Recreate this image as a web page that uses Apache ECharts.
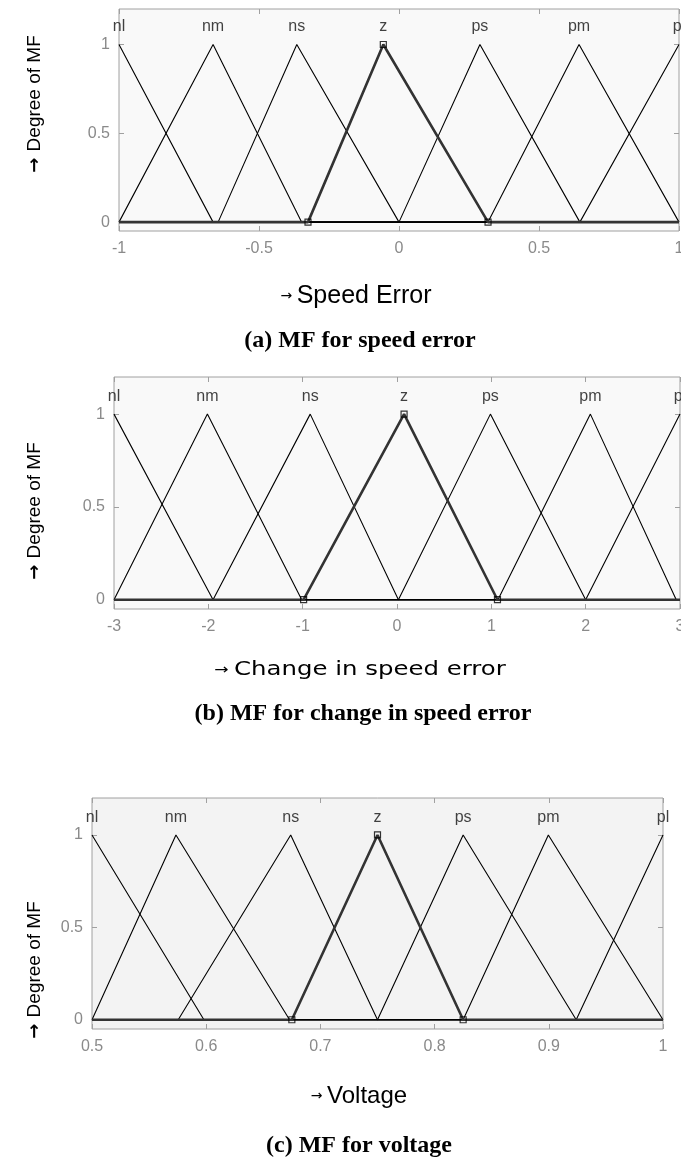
<!DOCTYPE html>
<html><head><meta charset="utf-8">
<script src="https://cdn.jsdelivr.net/npm/echarts@6/dist/echarts.min.js"></script>
<style>html,body{margin:0;padding:0;background:#fff}#c{width:681px;height:1169px}</style>
</head><body><div id="c"></div>
<script>
// Membership function names (same for all three panels)
const mfNames = ['nl', 'nm', 'ns', 'z', 'ps', 'pm', 'pl'];
const selectedMF = 'z';

// (a) Speed error: triangle params [left foot, peak, right foot]
const speedErrorRange = [-1, 1];
const speedErrorStep = 0.5;
const speedErrorMF = [
  [-1, -1, -0.664],
  [-1, -0.664, -0.348],
  [-0.646, -0.365, 0],
  [-0.325, -0.056, 0.318],
  [0, 0.289, 0.646],
  [0.318, 0.643, 1],
  [0.646, 1, 1]
];

// (b) Change in speed error
const changeRange = [-3, 3];
const changeStep = 1;
const changeMF = [
  [-3, -3, -1.95],
  [-3, -2.01, -1.01],
  [-1.95, -0.92, 0.015],
  [-0.99, 0.075, 1.065],
  [0.015, 0.99, 2.0],
  [1.07, 2.05, 2.96],
  [2.0, 3, 3]
];

// (c) Voltage
const voltageRange = [0.5, 1];
const voltageStep = 0.1;
const voltageMF = [
  [0.5, 0.5, 0.598],
  [0.5, 0.5735, 0.673],
  [0.5755, 0.674, 0.75],
  [0.675, 0.75, 0.825],
  [0.75, 0.825, 0.924],
  [0.825, 0.8996, 1],
  [0.924, 1, 1]
];

const yTicks = [0, 0.5, 1];
const yRange = [-0.05, 1.2];

const panels = [
  {range: speedErrorRange, step: speedErrorStep, mf: speedErrorMF,
   grid: {left: 119, top: 9, width: 560, height: 222, backgroundColor: '#f9f9f9'}},
  {range: changeRange, step: changeStep, mf: changeMF,
   grid: {left: 114, top: 377, width: 566, height: 232, backgroundColor: '#f9f9f9'}},
  {range: voltageRange, step: voltageStep, mf: voltageMF,
   grid: {left: 92, top: 798, width: 571, height: 231, backgroundColor: '#f3f3f3'}}
];

function fmt(v) { return String(Number(v.toFixed(3))); }

function mfPoints(p, range) {
  const [a, b, c] = p;
  const pts = [];
  if (a > range[0]) pts.push([range[0], 0]);
  if (b > a) pts.push([a, 0]);
  pts.push([b, 1]);
  if (c > b) pts.push([c, 0]);
  if (c < range[1]) pts.push([range[1], 0]);
  return pts;
}

const grids = [], xAxes = [], yAxes = [], series = [];
panels.forEach((pn, i) => {
  grids.push(Object.assign({show: true, borderColor: '#a0a0a0', borderWidth: 1,
    containLabel: false, outerBoundsMode: 'none'}, pn.grid));
  const tick = {show: true, inside: true, length: 5, lineStyle: {color: '#a0a0a0'}};
  const xBase = {
    type: 'value', gridIndex: i, min: pn.range[0], max: pn.range[1], interval: pn.step,
    axisLine: {show: false, onZero: false}, splitLine: {show: false}, axisTick: tick
  };
  xAxes.push(Object.assign({}, xBase, {position: 'bottom',
    axisLabel: {color: '#8a8a8a', fontSize: 16, margin: 10, fontFamily: 'Liberation Sans', formatter: fmt}}));
  xAxes.push(Object.assign({}, xBase, {position: 'top', axisLabel: {show: false}}));
  const yBase = {
    type: 'value', gridIndex: i, min: yRange[0], max: yRange[1],
    axisLine: {show: false, onZero: false}, splitLine: {show: false},
    axisTick: Object.assign({customValues: yTicks}, tick)
  };
  yAxes.push(Object.assign({}, yBase, {position: 'left',
    axisLabel: {color: '#8a8a8a', fontSize: 16, margin: 9, fontFamily: 'Liberation Sans', customValues: yTicks, formatter: fmt}}));
  yAxes.push(Object.assign({}, yBase, {position: 'right', axisLabel: {show: false}}));

  pn.mf.forEach((p, k) => {
    const name = mfNames[k];
    const sel = name === selectedMF;
    series.push({
      type: 'line', xAxisIndex: 2 * i, yAxisIndex: 2 * i, name: name,
      data: mfPoints(p, pn.range),
      symbol: 'none', silent: true, animation: false,
      z: sel ? 3 : 2,
      lineStyle: {color: sel ? '#333' : '#000', width: sel ? 2.6 : 1.1}
    });
    if (sel) {
      series.push({
        type: 'scatter', xAxisIndex: 2 * i, yAxisIndex: 2 * i, silent: true, animation: false,
        data: [[p[0], 0], [p[1], 1], [p[2], 0]],
        symbol: 'rect', symbolSize: 6, z: 4,
        itemStyle: {color: 'rgba(255,255,255,0)', borderColor: '#000', borderWidth: 1.2}
      });
    }
  });
  // MF name labels above each peak
  series.push({
    type: 'scatter', xAxisIndex: 2 * i, yAxisIndex: 2 * i, silent: true, animation: false,
    data: pn.mf.map((p, k) => ({value: [p[1], 1], name: mfNames[k]})),
    symbol: 'circle', symbolSize: 1, z: 5,
    itemStyle: {color: 'rgba(0,0,0,0)'},
    label: {show: true, position: 'top', distance: 9, formatter: '{b}',
      color: '#111', fontSize: 16, fontFamily: 'Liberation Sans'}
  });
});

const yName = (cy) => ({
  type: 'text', x: 35, y: cy, rotation: Math.PI / 2,
  style: {text: '{a|→ }{t|Degree of MF}', align: 'center', verticalAlign: 'middle', fill: '#000',
    rich: {a: {fontSize: 18, fontFamily: 'DejaVu Sans', fontWeight: 'bold', fill: '#000'},
           t: {fontSize: 19, fontFamily: 'Liberation Sans', fill: '#000'}}}
});
const xName = (cx, cy, label, size, family, scaleX) => ({
  type: 'text', x: cx, y: cy, scaleX: scaleX || 1,
  style: {
    text: '{a|→ }{t|' + label + '}', align: 'center', verticalAlign: 'middle', fill: '#000',
    rich: {a: {fontSize: 14, fontFamily: 'DejaVu Sans', fill: '#000'},
           t: {fontSize: size, fontFamily: family, fill: '#000'}}
  }
});
const caption = (cx, cy, text) => ({
  type: 'text', x: cx, y: cy,
  style: {text: text, font: 'bold 24px "Liberation Serif", "Times New Roman", serif', fill: '#000', align: 'center', verticalAlign: 'middle'}
});

const chart = echarts.init(document.getElementById('c'), null, {renderer: 'canvas'});
chart.setOption({
  animation: false,
  backgroundColor: '#fff',
  grid: grids, xAxis: xAxes, yAxis: yAxes, series: series,
  graphic: [
    yName(104), yName(511), yName(970),
    xName(356, 296, 'Speed Error', 25, 'Liberation Sans'),
    xName(360, 670, 'Change in speed error', 20, 'DejaVu Sans', 1.22),
    xName(359, 1096, 'Voltage', 24, 'Liberation Sans'),
    caption(360, 341, '(a) MF for speed error'),
    caption(363, 714, '(b) MF for change in speed error'),
    caption(359, 1146, '(c) MF for voltage')
  ]
});
</script>
</body></html>
